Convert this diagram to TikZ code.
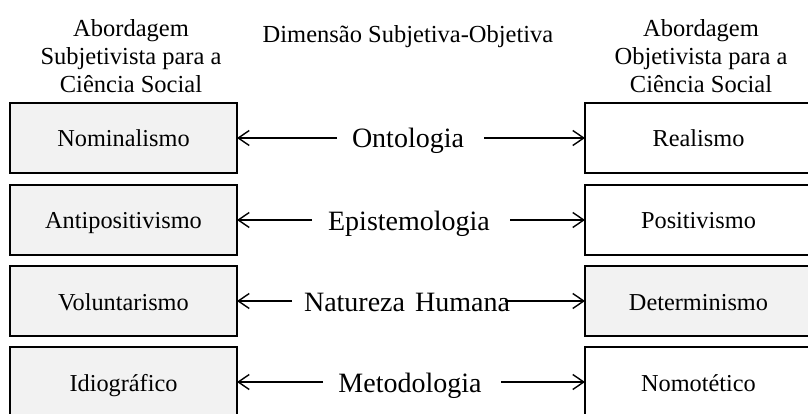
\documentclass[tikz,border=0pt]{standalone}
\usepackage{fontspec}
\setmainfont{Liberation Serif}
\usetikzlibrary{arrows.meta}
\definecolor{boxgray}{HTML}{F2F2F2}
\tikzset{
  every node/.style={inner sep=0pt, outer sep=0pt},
  leftbox/.style={draw=black, line width=2pt, fill=boxgray, minimum width=227pt, minimum height=70pt,
    text height=18pt, text depth=0pt, font=\fontsize{24.3}{28}\selectfont},
  rightbox/.style={leftbox, fill=white},
  grayright/.style={leftbox},
  header/.style={align=center, font=\fontsize{24.5}{28}\selectfont},
  dimlabel/.style={text height=20pt, text depth=0pt, font=\fontsize{28}{32}\selectfont},
  link/.style={line width=1.4pt, -{Straight Barb[length=11pt, width=15pt, line width=1.4pt]}}
}
\begin{document}
\begin{tikzpicture}[x=1pt, y=-1pt]
  \useasboundingbox (0,0) rectangle (808,414);
  \begin{scope}
  \clip (0,0) rectangle (808,414);

  % column headings and title
  \node[header] (hl) at (131,56) {Abordagem\\Subjetivista para a\\Ciência Social};
  \node[header] (hr) at (701,56) {Abordagem\\Objetivista para a\\Ciência Social};
  \node[header, anchor=base] (title) at (408,43) {Dimensão Subjetiva-Objetiva};

  % subjective side
  \node[leftbox] (l1) at (123.5,138) {Nominalismo};
  \node[leftbox] (l2) at (123.5,220) {Antipositivismo};
  \node[leftbox] (l3) at (123.5,301) {Voluntarismo};
  \node[leftbox] (l4) at (123.5,382) {Idiográfico};

  % objective side
  \node[rightbox] (r1) at (698.5,138) {Realismo};
  \node[rightbox] (r2) at (698.5,220) {Positivismo};
  \node[grayright] (r3) at (698.5,301) {Determinismo};
  \node[rightbox] (r4) at (698.5,382) {Nomotético};

  % dimensions
  \node[dimlabel] (d1) at (408,138) {Ontologia};
  \node[dimlabel] (d2) at (409,220) {Epistemologia};
  \node[dimlabel] (d3) at (407,301) {Natureza\hspace{3pt} Humana};
  \node[dimlabel] (d4) at (410,382) {Metodologia};

  % arrow tails
  \coordinate (a1l) at (337,138); \coordinate (a1r) at (484,138);
  \coordinate (a2l) at (312,220); \coordinate (a2r) at (510,220);
  \coordinate (a3l) at (292,301); \coordinate (a3r) at (505,301);
  \coordinate (a4l) at (323,382); \coordinate (a4r) at (501,382);

  \draw[link] (a1l) -- (l1.east);  \draw[link] (a1r) -- (r1.west);
  \draw[link] (a2l) -- (l2.east);  \draw[link] (a2r) -- (r2.west);
  \draw[link] (a3l) -- (l3.east);  \draw[link] (a3r) -- (r3.west);
  \draw[link] (a4l) -- (l4.east);  \draw[link] (a4r) -- (r4.west);
  \end{scope}
\end{tikzpicture}
\end{document}
